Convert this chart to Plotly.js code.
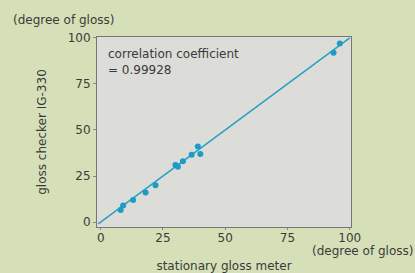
<!DOCTYPE html>
<html><head><meta charset="utf-8">
<script src="https://cdn.plot.ly/plotly-3.0.1.min.js"></script>
<style>html,body{margin:0;padding:0;background:#d6e0b8;}#c{width:415px;height:273px;}</style>
</head><body><div id="c"></div>
<script>
const stationary = [8, 9, 13, 18, 22, 30, 31, 33, 36.5, 39, 40, 93.5, 96];
const checker = [6.5, 9, 12, 16, 20, 31, 30, 33, 36.5, 41, 37, 92, 97];
const fitX = [-1, 100];
const fitY = [-1, 100];
const xTicks = [0, 25, 50, 75, 100];
const yTicks = [0, 25, 50, 75, 100];
const FAM = 'DejaVu Sans, Arial, sans-serif';
const TXT = '#3a3a3a';
const data = [
  {x: fitX, y: fitY, mode: 'lines', line: {color: '#2a9fc4', width: 1.5}, hoverinfo: 'skip'},
  {x: stationary, y: checker, mode: 'markers', marker: {color: '#1c9dc6', size: 6}}
];
const layout = {
  width: 415, height: 273,
  margin: {l: 97, r: 64, t: 37, b: 46},
  paper_bgcolor: '#d6e0b8', plot_bgcolor: '#dcdcd8',
  showlegend: false,
  font: {family: FAM, color: TXT, size: 12},
  xaxis: {range: [-1.5, 100.5], tickvals: xTicks, ticktext: xTicks.map(String), showgrid: false, zeroline: false,
    showline: true, linecolor: '#777', linewidth: 1, mirror: true, ticks: 'outside', ticklen: 2, tickcolor: '#888',
    ticklabelstandoff: -2,
    tickfont: {family: FAM, size: 12, color: TXT},
    title: {text: 'stationary gloss meter', font: {family: FAM, size: 12, color: TXT}, standoff: 20}},
  yaxis: {range: [-2.7, 100.5], tickvals: yTicks, ticktext: yTicks.map(String), showgrid: false, zeroline: false,
    showline: true, linecolor: '#777', linewidth: 1, mirror: true, ticks: 'outside', ticklen: 3, tickcolor: '#888',
    tickfont: {family: FAM, size: 12, color: TXT},
    title: {text: 'gloss checker IG-330', font: {family: FAM, size: 12, color: TXT}, standoff: 18}},
  annotations: [
    {text: 'correlation coefficient<br>= 0.99928', xref: 'paper', yref: 'paper', x: 0.035, y: 0.96,
     xanchor: 'left', yanchor: 'top', align: 'left', showarrow: false, font: {family: FAM, size: 12, color: TXT}},
    {text: '(degree of gloss)', xref: 'paper', yref: 'paper', x: -0.34, y: 1.04, xanchor: 'left', yanchor: 'bottom',
     showarrow: false, font: {family: FAM, size: 12, color: TXT}},
    {text: '(degree of gloss)', xref: 'paper', yref: 'paper', x: 1.25, y: -0.08, xanchor: 'right', yanchor: 'top',
     showarrow: false, font: {family: FAM, size: 12, color: TXT}}
  ]
};
Plotly.newPlot('c', data, layout, {displayModeBar: false, staticPlot: true});
</script></body></html>
